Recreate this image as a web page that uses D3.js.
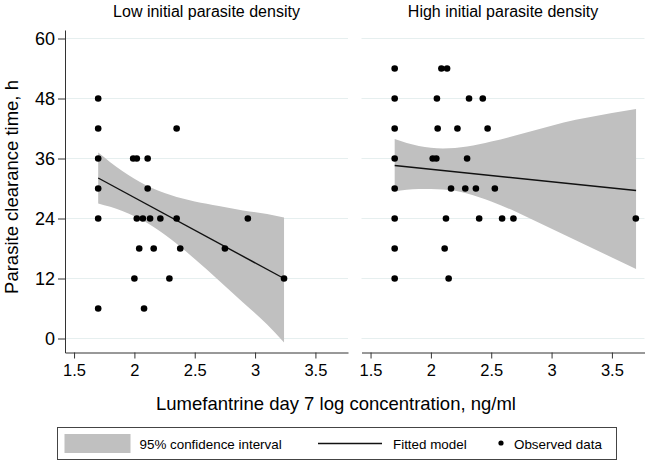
<!DOCTYPE html>
<html>
<head>
<meta charset="utf-8">
<script src="https://cdn.jsdelivr.net/npm/d3@7"></script>
<style>
  body { margin: 0; background: #fff; }
  svg { display: block; font-family: "Liberation Sans", Arial, Helvetica, sans-serif; }
</style>
</head>
<body>
<svg id="chart" width="651" height="466"></svg>
<script>
// ---------- data ----------
const panelTitles = ["Low initial parasite density", "High initial parasite density"];
const yTicks = [0, 12, 24, 36, 48, 60];
const xTicks = [1.5, 2, 2.5, 3, 3.5];

// Low initial parasite density: observed data
const lowX = [1.7, 1.7, 2.35, 1.7, 1.99, 2.02, 2.11, 1.7, 2.11, 1.7, 2.02, 2.07, 2.13, 2.215, 2.35, 2.94,
              2.04, 2.16, 2.38, 2.75, 2.0, 2.29, 3.24, 1.7, 2.08];
const lowY = [48, 42, 42, 36, 36, 36, 36, 30, 30, 24, 24, 24, 24, 24, 24, 24,
              18, 18, 18, 18, 12, 12, 12, 6, 6];
// Low: fitted model end points
const lowFitX = [1.7, 3.24];
const lowFitY = [32.1, 12.0];
// Low: 95% CI
const lowBandX = [1.7, 1.9, 2.1, 2.3, 2.5, 2.7, 2.9, 3.1, 3.24];
const lowBandLo = [27.0, 25.5, 23.2, 19.9, 15.9, 11.6, 7.2, 2.8, -0.8];
const lowBandHi = [37.2, 33.5, 30.6, 28.7, 27.4, 26.5, 25.6, 24.9, 24.2];

// High initial parasite density: observed data
const highX = [1.7, 2.087, 2.134, 1.7, 2.05, 2.316, 2.43, 1.7, 2.056, 2.22, 2.47,
               1.7, 2.015, 2.045, 2.30, 1.7, 2.167, 2.285, 2.373, 2.53,
               1.7, 2.125, 2.40, 2.59, 2.684, 3.698, 1.7, 2.114, 1.7, 2.147];
const highY = [54, 54, 54, 48, 48, 48, 48, 42, 42, 42, 42,
               36, 36, 36, 36, 30, 30, 30, 30, 30,
               24, 24, 24, 24, 24, 24, 18, 18, 12, 12];
// High: fitted model end points
const highFitX = [1.7, 3.7];
const highFitY = [34.6, 29.6];
// High: 95% CI
const highBandX = [1.7, 1.9, 2.1, 2.3, 2.5, 2.7, 2.9, 3.1, 3.3, 3.5, 3.7];
const highBandLo = [29.4, 29.9, 29.8, 29.0, 27.4, 25.4, 23.1, 20.8, 18.5, 16.2, 13.9];
const highBandHi = [39.9, 38.5, 38.0, 38.4, 39.4, 40.6, 41.9, 43.2, 44.2, 45.1, 45.9];

const legendLabels = ["95% confidence interval", "Fitted model", "Observed data"];
const xTitle = "Lumefantrine day 7 log concentration, ng/ml";
const yTitle = "Parasite clearance time, h";

// ---------- layout ----------
const svg = d3.select("#chart");
const plotTop = 30, plotBottom = 352.5;
const y = d3.scaleLinear().domain([-2.8, 61.7]).range([plotBottom, plotTop]);
const xDomain = [1.425, 3.77];
const panels = [
  { title: panelTitles[0], range: [65, 348], xs: lowX, ys: lowY, fx: lowFitX, fy: lowFitY,
    bx: lowBandX, blo: lowBandLo, bhi: lowBandHi, yaxis: true },
  { title: panelTitles[1], range: [361.5, 644.5], xs: highX, ys: highY, fx: highFitX, fy: highFitY,
    bx: highBandX, blo: highBandLo, bhi: highBandHi, yaxis: false }
];

const bandColor = "#c0c0c0";
const gridColor = "#e6efef";
const axisColor = "#333";

panels.forEach(p => {
  const x = d3.scaleLinear().domain(xDomain).range(p.range);
  const g = svg.append("g");

  // grid
  g.selectAll("line.grid").data(yTicks).join("line")
    .attr("x1", p.range[0]).attr("x2", p.range[1])
    .attr("y1", d => y(d)).attr("y2", d => y(d))
    .attr("stroke", gridColor).attr("stroke-width", 1);

  // band
  const bandData = p.bx.map((v, i) => ({ x: v, lo: p.blo[i], hi: p.bhi[i] }));
  g.append("path").datum(bandData)
    .attr("fill", bandColor)
    .attr("d", d3.area().x(d => x(d.x)).y0(d => y(d.lo)).y1(d => y(d.hi)).curve(d3.curveMonotoneX));

  // fitted line
  g.append("path").datum(p.fx.map((v, i) => [v, p.fy[i]]))
    .attr("fill", "none").attr("stroke", "#111").attr("stroke-width", 1.4)
    .attr("d", d3.line().x(d => x(d[0])).y(d => y(d[1])));

  // points
  g.selectAll("circle.pt").data(p.xs.map((v, i) => [v, p.ys[i]])).join("circle")
    .attr("cx", d => x(d[0])).attr("cy", d => y(d[1])).attr("r", 3.3).attr("fill", "#000");

  // x axis
  const xa = g.append("g").attr("transform", `translate(0,${plotBottom})`)
    .call(d3.axisBottom(x).tickValues(xTicks).tickFormat(d3.format("")).tickSize(6).tickPadding(6).tickSizeOuter(0));
  xa.select(".domain").attr("stroke", axisColor);
  xa.selectAll(".tick line").attr("stroke", axisColor);
  xa.selectAll("text").attr("font-size", "16.5px").attr("fill", "#000");
  xa.attr("font-family", null);

  if (p.yaxis) {
    const ya = g.append("g").attr("transform", `translate(${p.range[0]},0)`)
      .call(d3.axisLeft(y).tickValues(yTicks).tickSize(7).tickPadding(3).tickSizeOuter(0));
    ya.select(".domain").attr("stroke", axisColor);
    ya.selectAll(".tick line").attr("stroke", axisColor);
    ya.selectAll("text").attr("font-size", "18px").attr("fill", "#000");
    ya.attr("font-family", null);
  }

  // panel title
  svg.append("text").attr("x", (p.range[0] + p.range[1]) / 2).attr("y", 17)
    .attr("text-anchor", "middle").attr("font-size", "16px").text(p.title);
});

// axis titles
svg.append("text").attr("x", 336).attr("y", 410).attr("text-anchor", "middle")
  .attr("font-size", "18.5px").text(xTitle);
svg.append("text").attr("transform", "translate(18,187) rotate(-90)").attr("text-anchor", "middle")
  .attr("font-size", "18.5px").text(yTitle);

// legend
const lg = svg.append("g");
lg.append("rect").attr("x", 57.5).attr("y", 427.5).attr("width", 559).attr("height", 32)
  .attr("fill", "#fff").attr("stroke", "#444").attr("stroke-width", 1);
lg.append("rect").attr("x", 64.5).attr("y", 434).attr("width", 66).attr("height", 19).attr("fill", bandColor);
lg.append("text").attr("x", 139.5).attr("y", 448.5).attr("font-size", "13.4px").text(legendLabels[0]);
lg.append("line").attr("x1", 318).attr("x2", 382).attr("y1", 443.5).attr("y2", 443.5)
  .attr("stroke", "#111").attr("stroke-width", 1.4);
lg.append("text").attr("x", 393).attr("y", 448.5).attr("font-size", "13.4px").text(legendLabels[1]);
lg.append("circle").attr("cx", 501).attr("cy", 443).attr("r", 2.6).attr("fill", "#000");
lg.append("text").attr("x", 514).attr("y", 448.5).attr("font-size", "13.4px").text(legendLabels[2]);
</script>
</body>
</html>
